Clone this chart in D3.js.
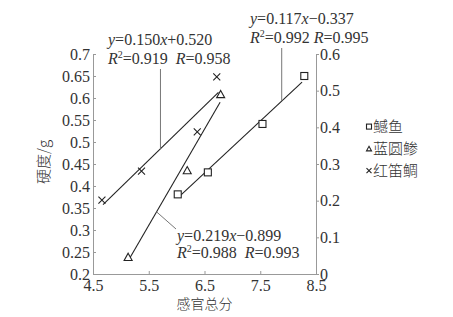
<!DOCTYPE html>
<html>
<head>
<meta charset="utf-8">
<script src="https://cdn.jsdelivr.net/npm/d3@7"></script>
<style>
  body { margin: 0; background: #fff; }
  text { font-family: "Liberation Serif", "Times New Roman", serif; fill: #333; }
  .cn { font-family: "Noto Sans CJK SC", sans-serif; font-weight: 300; }
</style>
</head>
<body>
<div id="chart"></div>
<script>
// ---------- data ----------
let seriesNames = ["鳡鱼", "蓝圆鲹", "红笛鲷"];
let symbols = ["square", "triangle", "cross"];

// 鳡鱼 (square)
let fishX = [6.02, 6.56, 7.54, 8.29];
let fishY = [0.381, 0.431, 0.541, 0.650];
// 蓝圆鲹 (triangle)
let scadX = [5.13, 6.19, 6.79];
let scadY = [0.239, 0.436, 0.609];
// 红笛鲷 (cross)
let snapperX = [4.66, 5.37, 6.37, 6.72];
let snapperY = [0.368, 0.434, 0.523, 0.648];

// x range covered by each fitted line
let fitFrom = [6.06, 5.15, 4.68];
let fitTo = [8.25, 6.78, 6.75];

// equations printed on the chart
let eqLine1 = [["0.117", "−0.337"], ["0.219", "−0.899"], ["0.150", "+0.520"]];
let eqR2 = ["0.992", "0.988", "0.919"];
let eqR = ["0.995", "0.993", "0.958"];

let xTicks = [4.5, 5.5, 6.5, 7.5, 8.5];
let yTicks = [0.2, 0.25, 0.3, 0.35, 0.4, 0.45, 0.5, 0.55, 0.6, 0.65, 0.7];
let y2Ticks = [0, 0.1, 0.2, 0.3, 0.4, 0.5, 0.6];

// ---------- layout ----------
var margin = {top: 54, right: 137, bottom: 43, left: 93},
    W = 453, H = 317,
    width = W - margin.left - margin.right,
    height = H - margin.top - margin.bottom;

var svg = d3.select("#chart").append("svg")
    .attr("width", W).attr("height", H)
  .append("g")
    .attr("transform", "translate(" + margin.left + "," + margin.top + ")");

var x = d3.scaleLinear().domain([4.5, 8.5]).range([0, width]);
var y = d3.scaleLinear().domain([0.2, 0.7]).range([height, 0]);
var y2 = d3.scaleLinear().domain([0, 0.6]).range([height, 0]);

function styleAxis(g) {
  g.select(".domain").attr("stroke", "#999");
  g.selectAll(".tick line").attr("stroke", "#999");
  g.selectAll(".tick text").attr("font-size", 16)
    .attr("font-family", "Liberation Serif, serif").attr("fill", "#333");
}

// axes
svg.append("g")
  .attr("transform", "translate(0," + height + ")")
  .call(d3.axisBottom(x).tickValues(xTicks).tickFormat(d3.format(".1f"))
        .tickSizeInner(-3).tickSizeOuter(0).tickPadding(6))
  .call(styleAxis);

svg.append("g")
  .call(d3.axisLeft(y).tickValues(yTicks).tickFormat(d => d3.format("")(+d.toFixed(2)))
        .tickSizeInner(-3).tickSizeOuter(0).tickPadding(3))
  .call(styleAxis);

svg.append("g")
  .attr("transform", "translate(" + width + ",0)")
  .call(d3.axisRight(y2).tickValues(y2Ticks).tickFormat(d => d3.format("")(+d.toFixed(1)))
        .tickSizeInner(3).tickSizeOuter(0).tickPadding(1))
  .call(styleAxis);

// axis titles
svg.append("text").attr("class", "cn")
  .attr("transform", "translate(-44," + (y(0.45) - 2) + ") rotate(-90)")
  .attr("text-anchor", "middle").attr("font-size", 15)
  .text("硬度/g");
svg.append("text").attr("class", "cn")
  .attr("x", x(6.5)).attr("y", height + 35)
  .attr("text-anchor", "middle").attr("font-size", 14)
  .text("感官总分");

// ---------- series ----------
let allX = [fishX, scadX, snapperX];
let allY = [fishY, scadY, snapperY];

function fit(xs, ys) {
  let mx = d3.mean(xs), my = d3.mean(ys);
  let sxy = d3.sum(xs, (v, i) => (v - mx) * (ys[i] - my));
  let sxx = d3.sum(xs, v => (v - mx) * (v - mx));
  let b = sxy / sxx;
  return {b: b, a: my - b * mx};
}

function drawSymbol(g, type, cx, cy, s) {
  if (type === "square") {
    g.append("rect").attr("x", cx - s / 2).attr("y", cy - s / 2)
      .attr("width", s).attr("height", s)
      .attr("fill", "#fff").attr("stroke", "#222").attr("stroke-width", 1.1);
  } else if (type === "triangle") {
    let h = s * 0.9;
    g.append("path")
      .attr("d", "M" + cx + "," + (cy - h / 2) + "L" + (cx + s / 2) + "," + (cy + h / 2) +
                 "L" + (cx - s / 2) + "," + (cy + h / 2) + "Z")
      .attr("fill", "#fff").attr("stroke", "#222").attr("stroke-width", 1.1);
  } else {
    let r = s / 2;
    g.append("path")
      .attr("d", "M" + (cx - r) + "," + (cy - r) + "L" + (cx + r) + "," + (cy + r) +
                 "M" + (cx - r) + "," + (cy + r) + "L" + (cx + r) + "," + (cy - r))
      .attr("stroke", "#222").attr("stroke-width", 1.1);
  }
}

let fits = [];
for (let k = 0; k < 3; ++k) {
  let f = fit(allX[k], allY[k]);
  fits.push(f);
  let ends = [fitFrom[k], fitTo[k]].map(v => ({x: v, y: f.a + f.b * v}));
  svg.append("path")
    .datum(ends)
    .attr("fill", "none").attr("stroke", "#222").attr("stroke-width", 1.1)
    .attr("d", d3.line().x(d => x(d.x)).y(d => y(d.y)));

  let g = svg.append("g");
  for (let i = 0; i < allX[k].length; ++i) {
    drawSymbol(g, symbols[k], x(allX[k][i]), y(allY[k][i]), symbols[k] === "triangle" ? 8 : 7);
  }
}

// ---------- equation labels with leader lines ----------
// anchor: x value on the fit line, then pixel offset of the text block
let eqAnchor = [7.885, 5.64, 5.71];
let eqTextPos = [[250, 24], [177, 241], [108, 45]];

for (let k = 0; k < 3; ++k) {
  let ax = x(eqAnchor[k]), ay = y(fits[k].a + fits[k].b * eqAnchor[k]);
  let tx = eqTextPos[k][0] - margin.left, ty = eqTextPos[k][1] - margin.top;
  let lx2, ly2;
  if (k === 1) { lx2 = tx - 1; ly2 = ty - 12; }
  else { lx2 = ax; ly2 = ty + 24; }
  svg.append("line")
    .attr("x1", ax).attr("y1", ay).attr("x2", lx2).attr("y2", ly2)
    .attr("stroke", "#777").attr("stroke-width", 1);

  let t1 = svg.append("text").attr("x", tx).attr("y", ty).attr("font-size", 16);
  t1.append("tspan").attr("font-style", "italic").text("y");
  t1.append("tspan").text("=" + eqLine1[k][0]);
  t1.append("tspan").attr("font-style", "italic").text("x");
  t1.append("tspan").text(eqLine1[k][1]);

  let t2 = svg.append("text").attr("x", tx).attr("y", ty + (k === 1 ? 17 : 19))
    .attr("font-size", 16).style("white-space", "pre");
  t2.append("tspan").attr("font-style", "italic").text("R");
  t2.append("tspan").attr("font-size", 10).attr("dy", -6).text("2");
  t2.append("tspan").attr("dy", 6).text("=" + eqR2[k] + (k === 0 ? " " : "  "));
  t2.append("tspan").attr("font-style", "italic").text("R");
  t2.append("tspan").text("=" + eqR[k]);
}

// ---------- legend ----------
let legend = svg.append("g").attr("transform", "translate(" + (width + 53) + "," + (y(0.535)) + ")");
seriesNames.forEach((name, i) => {
  let row = legend.append("g").attr("transform", "translate(0," + (i * 22) + ")");
  drawSymbol(row, symbols[i], 0, 0, 5);
  row.append("text").attr("class", "cn")
    .attr("x", 4).attr("y", 0).attr("dy", "0.36em")
    .attr("font-size", 15).text(name);
});
</script>
</body>
</html>
